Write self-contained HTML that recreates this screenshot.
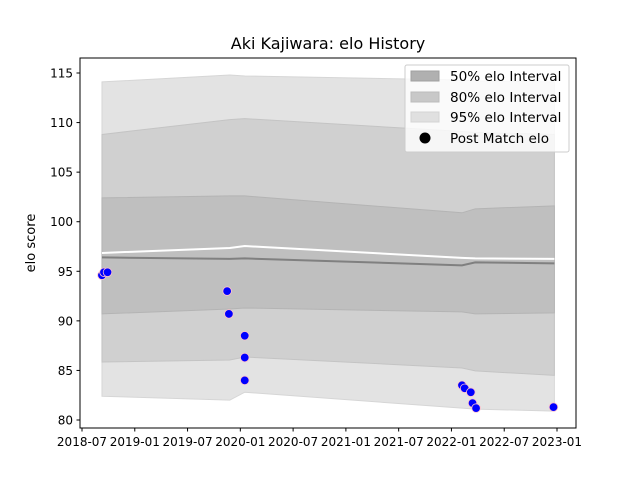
<!DOCTYPE html>
<html><head><meta charset="utf-8"><style>
body{margin:0;background:#fff}
svg{display:block;font-family:"DejaVu Sans","Liberation Sans",sans-serif}
</style></head><body>
<svg id="chart" width="640" height="480">
<rect width="640" height="480" fill="#fff"/>
<text x="328" y="49" font-size="16" text-anchor="middle">Aki Kajiwara: elo History</text>
<g id="plot"></g>
<rect x="80" y="58" width="496" height="370" fill="none" stroke="#000" stroke-width="1"/>
<g id="axes" font-size="12"></g>
<text transform="translate(35,243) rotate(-90)" font-size="13" text-anchor="middle">elo score</text>
<g>
<rect x="405" y="65" width="164" height="87" fill="#fff" fill-opacity="0.8" stroke="#ccc" rx="2"/>
<rect x="411" y="71" width="28" height="10" fill="#b0b0b0" stroke="#a0a0a0"/>
<text x="450" y="81" font-size="13.6">50% elo Interval</text>
<rect x="411" y="92" width="28" height="10" fill="#c8c8c8" stroke="#bcbcbc"/>
<text x="450" y="102" font-size="13.6">80% elo Interval</text>
<rect x="411" y="112" width="28" height="10" fill="#e0e0e0" stroke="#d4d4d4"/>
<text x="450" y="122" font-size="13.6">95% elo Interval</text>
<circle cx="425" cy="138" r="5.5" fill="#000"/>
<text x="450" y="143" font-size="13.6">Post Match elo</text>
</g>
</svg>
<script>
// months since 2018-07
const bandT = [2.27, 16.8, 18.5, 43.2, 44.7, 53.7];
const upper95 = [114.1, 114.8, 114.7, 114.3, 114.2, 114.1];
const lower95 = [82.4, 82.0, 82.8, 81.2, 81.1, 80.9];
const upper80 = [108.8, 110.3, 110.4, 109.1, 109.0, 108.8];
const lower80 = [85.85, 86.05, 86.35, 85.25, 84.95, 84.5];
const upper50 = [102.4, 102.6, 102.6, 100.9, 101.3, 101.6];
const lower50 = [90.7, 91.2, 91.3, 90.9, 90.7, 90.8];
const meanLine = [96.4, 96.25, 96.3, 95.6, 95.9, 95.8];
const whiteLine = [96.85, 97.35, 97.55, 96.35, 96.3, 96.25];
const matchT = [2.27, 2.5, 2.9, 16.5, 16.7, 18.5, 18.5, 18.5, 43.2, 43.5, 44.2, 44.4, 44.8, 53.6];
const matchElo = [94.6, 94.9, 94.9, 93.0, 90.7, 88.5, 86.3, 84.0, 83.5, 83.2, 82.8, 81.7, 81.2, 81.3];
const xTickLabels = ["2018-07","2019-01","2019-07","2020-01","2020-07","2021-01","2021-07","2022-01","2022-07","2023-01"];
const xTickMonths = [0,6,12,18,24,30,36,42,48,54];
const yTicks = [80,85,90,95,100,105,110,115];

const NS="http://www.w3.org/2000/svg";
const X = m => 82 + m*(475/54);
const Y = v => 420 - (v-80)*(347/35);
function mk(tag, attrs, parent){const e=document.createElementNS(NS,tag);for(const k in attrs)e.setAttribute(k,attrs[k]);parent.appendChild(e);return e;}
const plot=document.getElementById('plot'), axes=document.getElementById('axes');
function band(up,lo,fill,stroke,name){
  let d="M"+bandT.map((t,i)=>X(t)+","+Y(up[i])).join("L");
  d+="L"+bandT.slice().reverse().map((t,j)=>{const i=bandT.length-1-j;return X(t)+","+Y(lo[i]);}).join("L")+"Z";
  const p=mk('path',{d:d,fill:fill,stroke:stroke,'stroke-width':1},plot);
  
  
}
band(upper95,lower95,"#e3e3e3","#d6d6d6","band-95");
band(upper80,lower80,"#d0d0d0","#c4c4c4","band-80");
band(upper50,lower50,"#bfbfbf","#b4b4b4","band-50");
function line(vals,color,w,name){
  const p=mk('polyline',{points:bandT.map((t,i)=>X(t)+","+Y(vals[i])).join(" "),fill:"none",stroke:color,'stroke-width':w},plot);
  
  
}
line(meanLine,"#808080",2,"mean-elo-line");
line(whiteLine,"#ffffff",2,"expected-elo-line");
matchT.forEach((t,i)=>{
  const c=mk('circle',{cx:X(t),cy:Y(matchElo[i]),r:4.3,fill:"#0000ff",stroke:"#ffc0cb",'stroke-width':0.8},plot);
  
  
});
xTickMonths.forEach((m,i)=>{
  const x=X(m);
  const l=mk('line',{x1:x,x2:x,y1:428,y2:431.5,stroke:"#000"},axes);
  
  
  const t=mk('text',{x:x,y:446,'text-anchor':'middle'},axes);
  t.textContent=xTickLabels[i];
  
  
});
yTicks.forEach(v=>{
  const y=Y(v);
  const l=mk('line',{x1:76.5,x2:80,y1:y,y2:y,stroke:"#000"},axes);
  
  
  const t=mk('text',{x:73,y:y+4.5,'text-anchor':'end'},axes);
  t.textContent=v;
  
  
});
</script>
</body></html>
